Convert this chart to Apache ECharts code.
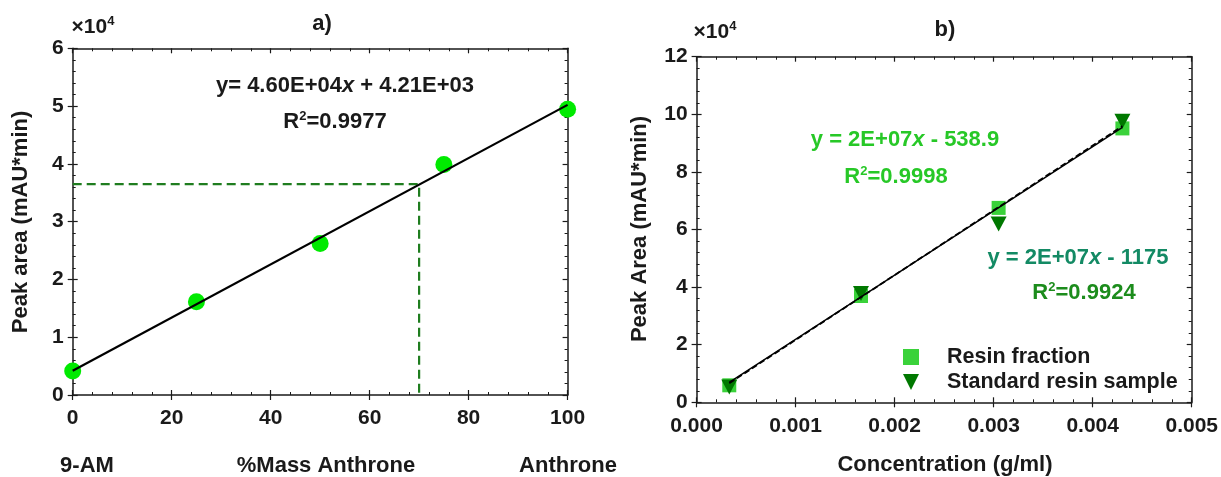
<!DOCTYPE html>
<html>
<head>
<meta charset="utf-8">
<script src="https://cdn.jsdelivr.net/npm/echarts@6/dist/echarts.min.js"></script>
<style>
  html, body { margin: 0; padding: 0; background: #fff; }
  #main { width: 1221px; height: 477px; }
</style>
</head>
<body>
<div id="main"></div>
<script>
// a) calibration vs % mass anthrone
const massPct = [0, 25, 50, 75, 100];
const peakArea = [4150, 16130, 26230, 39890, 49450];
const fitAX = [0, 100];
const fitAY = [4210, 50210];
const guideX = [0, 70, 70];
const guideY = [36500, 36500, 0];

// b) peak area vs concentration
const conc = [0.00033, 0.00166, 0.00305, 0.0043];
const resinFraction = [5900, 36900, 67500, 95100];
const standardResin = [5300, 37800, 61900, 97600];
const fitBX = [0.00033, 0.0043];
const fitResinY = [6900, 95500];
const fitStdY = [6600, 95900];

const FONT = "'Liberation Sans', Arial, sans-serif";
const INK = '#1a1a1a';

const pairs = (xs, ys) => xs.map((x, i) => [x, ys[i]]);

// main axis (labels + major ticks outside), mirror axis, inner tick axis
function axesFor(kind, gridIndex, min, max, interval, fmt) {
  const main = {
    type: 'value', gridIndex, min, max, interval,
    position: kind === 'x' ? 'bottom' : 'left',
    splitLine: { show: false },
    axisLine: { onZero: false, lineStyle: { color: INK, width: 1.5 } },
    axisTick: { inside: false, length: 5, lineStyle: { color: INK, width: 1.2 } },
    axisLabel: {
      color: INK, fontFamily: FONT, fontWeight: 'bold', fontSize: 21,
      margin: kind === 'x' ? 13 : 9, formatter: fmt
    }
  };
  const inner = {
    type: 'value', gridIndex, min, max, interval,
    position: kind === 'x' ? 'bottom' : 'left',
    splitLine: { show: false },
    axisLine: { show: false, onZero: false },
    axisTick: { inside: true, length: 5, lineStyle: { color: INK, width: 1.2 } },
    minorTick: { show: true, splitNumber: 5, length: 3, lineStyle: { color: INK, width: 1 } },
    axisLabel: { show: false }
  };
  const mirror = Object.assign({}, inner, {
    position: kind === 'x' ? 'top' : 'right',
    axisLine: { show: true, onZero: false, lineStyle: { color: INK, width: 1.5 } }
  });
  return [main, mirror, inner];
}

const xAxes = [].concat(
  axesFor('x', 0, 0, 100, 20),
  axesFor('x', 1, 0, 0.005, 0.001, v => v.toFixed(3))
);
const yAxes = [].concat(
  axesFor('y', 0, 0, 60000, 10000, v => v / 1e4),
  axesFor('y', 1, 0, 120000, 20000, v => v / 1e4)
);

const boldText = (x, y, rich, extra) => ({
  type: 'text', x, y,
  style: Object.assign({
    text: rich.text, rich: rich.rich, fill: INK,
    font: 'bold 22px ' + FONT, align: 'center', verticalAlign: 'middle'
  }, extra || {})
});

function eqRich(color, size) {
  return {
    b: { fontFamily: FONT, fontWeight: 'bold', fontSize: size, fill: color, color: color },
    i: { fontFamily: FONT, fontWeight: 'bold', fontStyle: 'italic', fontSize: size, fill: color, color: color },
    s: { fontFamily: FONT, fontWeight: 'bold', fontSize: 13, fill: color, color: color, verticalAlign: 'top', padding: [0, 0, 11, 0] }
  };
}

const chart = echarts.init(document.getElementById('main'), null, { renderer: 'canvas' });

chart.setOption({
  animation: false,
  backgroundColor: '#ffffff',
  grid: [
    { left: 72.7, right: 653.4, top: 48.3, bottom: 82 },
    { left: 696.6, right: 28.5, top: 56.7, bottom: 74.7 }
  ],
  xAxis: xAxes,
  yAxis: yAxes,
  legend: {
    orient: 'vertical',
    left: 898, top: 341,
    itemWidth: 16, itemHeight: 16, itemGap: 3,
    textStyle: { color: INK, fontFamily: FONT, fontWeight: 'bold', fontSize: 21.5, padding: [0, 0, 0, 23] },
    data: [
      { name: 'Resin fraction', icon: 'path://M0,0 L10,0 L10,10 L0,10 Z' },
      { name: 'Standard resin sample', icon: 'path://M0,0 L10,0 L5,10 Z' }
    ]
  },
  series: [
    {
      type: 'line', xAxisIndex: 0, yAxisIndex: 0,
      data: pairs(guideX, guideY), symbol: 'none',
      lineStyle: { color: '#1f7d1f', width: 2.2, type: [9, 5] }
    },
    {
      type: 'line', xAxisIndex: 0, yAxisIndex: 0,
      data: pairs(fitAX, fitAY), symbol: 'none',
      lineStyle: { color: '#000', width: 2.2 }
    },
    {
      type: 'scatter', xAxisIndex: 0, yAxisIndex: 0,
      data: pairs(massPct, peakArea), symbol: 'circle', symbolSize: 17,
      itemStyle: { color: '#00ea00', opacity: 1 }
    },
    {
      type: 'line', xAxisIndex: 3, yAxisIndex: 3,
      data: pairs(fitBX, fitResinY), symbol: 'none',
      lineStyle: { color: '#000', width: 1.5 }
    },
    {
      type: 'line', xAxisIndex: 3, yAxisIndex: 3,
      data: pairs(fitBX, fitStdY), symbol: 'none',
      lineStyle: { color: '#000', width: 1.8, type: [6, 3] }
    },
    {
      name: 'Resin fraction',
      type: 'scatter', xAxisIndex: 3, yAxisIndex: 3,
      data: pairs(conc, resinFraction), symbol: 'rect', symbolSize: 14,
      itemStyle: { color: '#3ad23a', opacity: 1 }
    },
    {
      name: 'Standard resin sample',
      type: 'scatter', xAxisIndex: 3, yAxisIndex: 3,
      data: pairs(conc, standardResin), symbol: 'triangle', symbolRotate: 180, symbolSize: [16, 15],
      itemStyle: { color: '#007800', opacity: 1 }
    }
  ],
  graphic: [
    // panel a)
    boldText(322, 24, { text: 'a)' }),
    boldText(93, 27, { text: '{b|×10}{s|4}', rich: eqRich(INK, 21) }),
    boldText(345, 86, { text: '{b|y= 4.60E+04}{i|x}{b| + 4.21E+03}', rich: eqRich(INK, 22) }),
    boldText(335, 122, { text: '{b|R}{s|2}{b|=0.9977}', rich: eqRich(INK, 22) }),
    boldText(21, 222, { text: 'Peak area (mAU*min)' }),
    boldText(87, 466, { text: '9-AM' }),
    boldText(326, 466, { text: '%Mass Anthrone' }),
    boldText(568, 466, { text: 'Anthrone' }),
    // panel b)
    boldText(945, 30, { text: 'b)' }),
    boldText(715, 32, { text: '{b|×10}{s|4}', rich: eqRich(INK, 21) }),
    boldText(905, 140, { text: '{b|y = 2E+07}{i|x}{b| - 538.9}', rich: eqRich('#27c827', 22) }),
    boldText(896, 177, { text: '{b|R}{s|2}{b|=0.9998}', rich: eqRich('#27c827', 22) }),
    boldText(1078, 258, { text: '{b|y = 2E+07}{i|x}{b| - 1175}', rich: eqRich('#138a64', 22) }),
    boldText(1084, 293, { text: '{b|R}{s|2}{b|=0.9924}', rich: eqRich('#1c8c1c', 22) }),
    boldText(640, 229, { text: 'Peak Area (mAU*min)' }),
    boldText(945, 465, { text: 'Concentration (g/ml)' })
  ].map(g => {
    // rotate the two y-axis titles
    if (g.style.text === 'Peak area (mAU*min)' || g.style.text === 'Peak Area (mAU*min)') {
      g.rotation = Math.PI / 2;
    }
    return g;
  })
});
</script>
</body>
</html>
